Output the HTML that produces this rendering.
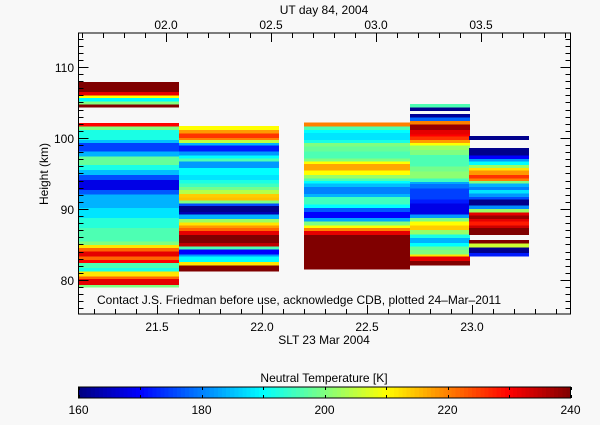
<!DOCTYPE html>
<html><head><meta charset="utf-8"><style>
html,body{margin:0;padding:0;background:#f8f8f8;}
svg text{font-family:"Liberation Sans",sans-serif;font-size:12px;fill:#000;}
</style></head><body>
<svg id="chart" width="600" height="420" viewBox="0 0 600 420" xmlns="http://www.w3.org/2000/svg">
<rect x="0" y="0" width="600" height="420" fill="#f8f8f8"/>
<g id="cells" shape-rendering="crispEdges"></g>
<g id="axes" shape-rendering="crispEdges" stroke="#000" fill="none"></g>
<g id="labels"></g>
<text x="324" y="14" text-anchor="middle">UT day 84, 2004</text>
<text x="324" y="344" text-anchor="middle">SLT 23 Mar 2004</text>
<text x="0" y="0" transform="translate(48,174) rotate(-90)" text-anchor="middle" font-size="11">Height (km)</text>
<text x="97" y="304" font-size="11.5">Contact J.S. Friedman before use, acknowledge CDB, plotted 24–Mar–2011</text>
<text x="324" y="382" text-anchor="middle" font-size="13">Neutral Temperature [K]</text>
<g id="cbar" shape-rendering="crispEdges"></g>
</svg>
<script>
// ---- data ----
const colSlt = [[21.126,21.605],[21.605,22.081],[22.2,22.705],[22.705,22.99],[22.986,23.271]];
const c1Edges = [107.9,106.5,106.0,105.6,105.1,104.7,104.3,102.1,101.6,101.1,99.7,99.3,98.1,97.4,96.2,95.5,94.8,94.1,92.7,92.0,90.1,88.7,87.3,85.4,84.9,84.5,84.0,83.3,82.8,82.4,81.7,81.2,80.5,80.1,79.3,78.9];
const c1Temps = [240,232,210,190,200,240,null,230,200,192,185,175,184,198,192,185,176,168,177,184,188,193,196,200,212,222,232,222,230,196,192,212,222,232,200];
const c2Edges = [101.7,101.1,100.6,100.0,99.7,99.3,98.9,98.1,97.5,97.1,96.7,95.8,94.8,94.1,93.6,93.1,92.7,92.1,91.6,91.2,90.8,90.4,89.6,89.2,88.6,88.1,87.7,87.3,86.9,86.3,85.2,84.7,84.3,83.6,83.3,82.5,82.0,81.2];
const c2Temps = [210,218,226,220,205,184,172,182,190,196,182,190,188,192,195,199,204,214,215,200,176,161,164,184,202,212,218,222,232,240,235,196,170,182,190,212,240];
const c3Edges = [102.2,101.6,101.1,100.7,99.7,99.3,98.8,98.1,97.1,96.7,96.3,95.4,94.8,94.3,93.9,93.6,93.1,92.1,91.7,90.6,90.1,89.6,88.7,88.2,87.7,87.3,86.9,86.3,81.5];
const c3Temps = [220,196,190,188,192,200,198,196,200,210,217,210,202,196,190,185,180,184,195,190,177,170,183,200,210,220,232,240];
const c4Edges = [104.8,104.3,103.8,103.4,102.9,102.4,101.9,101.1,100.5,100.2,99.7,99.3,98.9,98.3,97.6,96.0,95.3,94.3,93.8,93.5,92.9,91.3,90.8,89.2,88.7,88.2,87.7,87.0,86.4,85.9,85.2,84.7,84.2,83.6,83.3,82.7,82.0];
const c4Temps = [196,161,null,162,178,220,238,232,230,226,218,210,202,200,196,199,201,195,183,179,175,172,168,182,200,210,214,202,192,184,190,198,200,212,232,240];
const c5Edges = [100.3,99.7,98.6,97.5,97.0,96.7,96.2,95.8,95.4,94.8,94.3,93.9,93.6,93.1,92.7,92.2,91.7,91.3,90.5,90.0,89.5,89.1,88.6,88.2,87.7,87.3,86.3,85.6,85.1,84.6,83.8,83.3];
const c5Temps = [161,null,161,170,182,190,202,212,218,226,220,200,184,180,188,182,176,161,181,202,232,238,232,228,234,240,null,240,206,161,172];
const xTicks = [21.5,22.0,22.5,23.0];
const xTickLabels = ["21.5","22.0","22.5","23.0"];
const utTicks = [2.0,2.5,3.0,3.5];
const utTickLabels = ["02.0","02.5","03.0","03.5"];
const yTicks = [80,90,100,110];
const yTickLabels = ["80","90","100","110"];
const cbTicks = [160,180,200,220,240];
const cbTickLabels = ["160","180","200","220","240"];
const tMin = 160, tMax = 240;
const utOffset = 19.543;

// ---- scales ----
const L=78.5,R=570.5,T=33,B=314;
const sx0=21.1262, sx1=23.4690;
const sy0=75.2, sy1=114.78;
function xs(v){return L+(v-sx0)/(sx1-sx0)*(R-L);}
function ys(v){return B-(v-sy0)/(sy1-sy0)*(B-T);}
function jet(t){
  t=Math.max(0,Math.min(1,(t-tMin)/(tMax-tMin)));
  function f(x){return Math.max(0,Math.min(1,1.5-Math.abs(4*t-x)));}
  const r=f(3),g=f(2),b=f(1);
  return `rgb(${Math.round(r*255)},${Math.round(g*255)},${Math.round(b*255)})`;
}
const NS="http://www.w3.org/2000/svg";
function mk(tag,attrs,parent){const e=document.createElementNS(NS,tag);for(const k in attrs)e.setAttribute(k,attrs[k]);parent.appendChild(e);return e;}

// ---- cells ----
const cells=document.getElementById('cells');
const cols=[[c1Edges,c1Temps],[c2Edges,c2Temps],[c3Edges,c3Temps],[c4Edges,c4Temps],[c5Edges,c5Temps]];
cols.forEach((c,ci)=>{
  const [edges,temps]=c;
  const x0=xs(colSlt[ci][0]), x1=xs(colSlt[ci][1]);
  temps.forEach((t,i)=>{
    if(t===null)return;
    const y0=ys(edges[i]), y1=ys(edges[i+1]);
    const r=mk('rect',{x:x0.toFixed(2),y:y0.toFixed(2),width:(x1-x0).toFixed(2),height:(y1-y0).toFixed(2),fill:jet(t)},cells);
    
    
  });
});

// ---- axes ----
const ax=document.getElementById('axes');
const frame=mk('rect',{x:L,y:T,width:R-L,height:B-T,stroke:'#000','stroke-width':1},ax);


const lab=document.getElementById('labels');
// x minor ticks every 0.1
for(let v=21.2;v<23.47;v+=0.1){
  const x=Math.round(xs(v))+0.5;
  const major=xTicks.some(m=>Math.abs(m-v)<1e-6);
  const len=major?9:5;
  const tk=mk('line',{x1:x,y1:B,x2:x,y2:B-len},ax);
  
  
}
xTicks.forEach((v,i)=>{
  const t=mk('text',{x:xs(v),y:331,'text-anchor':'middle'},lab);t.textContent=xTickLabels[i];
  
  
});
// top UT ticks
for(let u=1.6;u<3.95;u+=0.1){
  const x=Math.round(xs(u+utOffset))+0.5;
  if(x<L||x>R)continue;
  const major=utTicks.some(m=>Math.abs(m-u)<1e-6);
  const tk=mk('line',{x1:x,y1:T,x2:x,y2:T+(major?9:5)},ax);
  
  
}
utTicks.forEach((u,i)=>{
  const t=mk('text',{x:xs(u+utOffset),y:29,'text-anchor':'middle'},lab);t.textContent=utTickLabels[i];
  
  
});
// y ticks every 1 km
for(let h=76;h<=114;h++){
  const y=Math.round(ys(h))+0.5;
  const major=h%10===0;
  const len=major?10:5;
  const a=mk('line',{x1:L,y1:y,x2:L+len,y2:y},ax);
  
  
  const b=mk('line',{x1:R,y1:y,x2:R-len,y2:y},ax);
  
  
}
yTicks.forEach((v,i)=>{
  const t=mk('text',{x:74,y:ys(v)+5,'text-anchor':'end'},lab);t.textContent=yTickLabels[i];
  
  
});

// ---- colorbar ----
const cb=document.getElementById('cbar');
const CY0=387,CY1=398;
const steps=120;
for(let i=0;i<steps;i++){
  const v=tMin+(i+0.5)*(tMax-tMin)/steps;
  const x0=L+i*(R-L)/steps;
  const r=mk('rect',{x:x0.toFixed(2),y:CY0,width:((R-L)/steps+0.6).toFixed(2),height:CY1-CY0,fill:jet(v)},cb);
  
  
}
const cf=mk('rect',{x:L,y:CY0,width:R-L,height:CY1-CY0,fill:'none',stroke:'#000'},cb);


for(let v=tMin;v<=tMax;v+=10){
  const x=Math.round(L+(v-tMin)/(tMax-tMin)*(R-L))+0.5;
  const a=mk('line',{x1:x,y1:CY0,x2:x,y2:CY0+3,stroke:'#000'},cb);
  
  
  const b=mk('line',{x1:x,y1:CY1,x2:x,y2:CY1-3,stroke:'#000'},cb);
  
  
}
cbTicks.forEach((v,i)=>{
  const t=mk('text',{x:L+(v-tMin)/(tMax-tMin)*(R-L),y:414,'text-anchor':'middle'},cb);t.textContent=cbTickLabels[i];
  
  
});
</script>
</body></html>
